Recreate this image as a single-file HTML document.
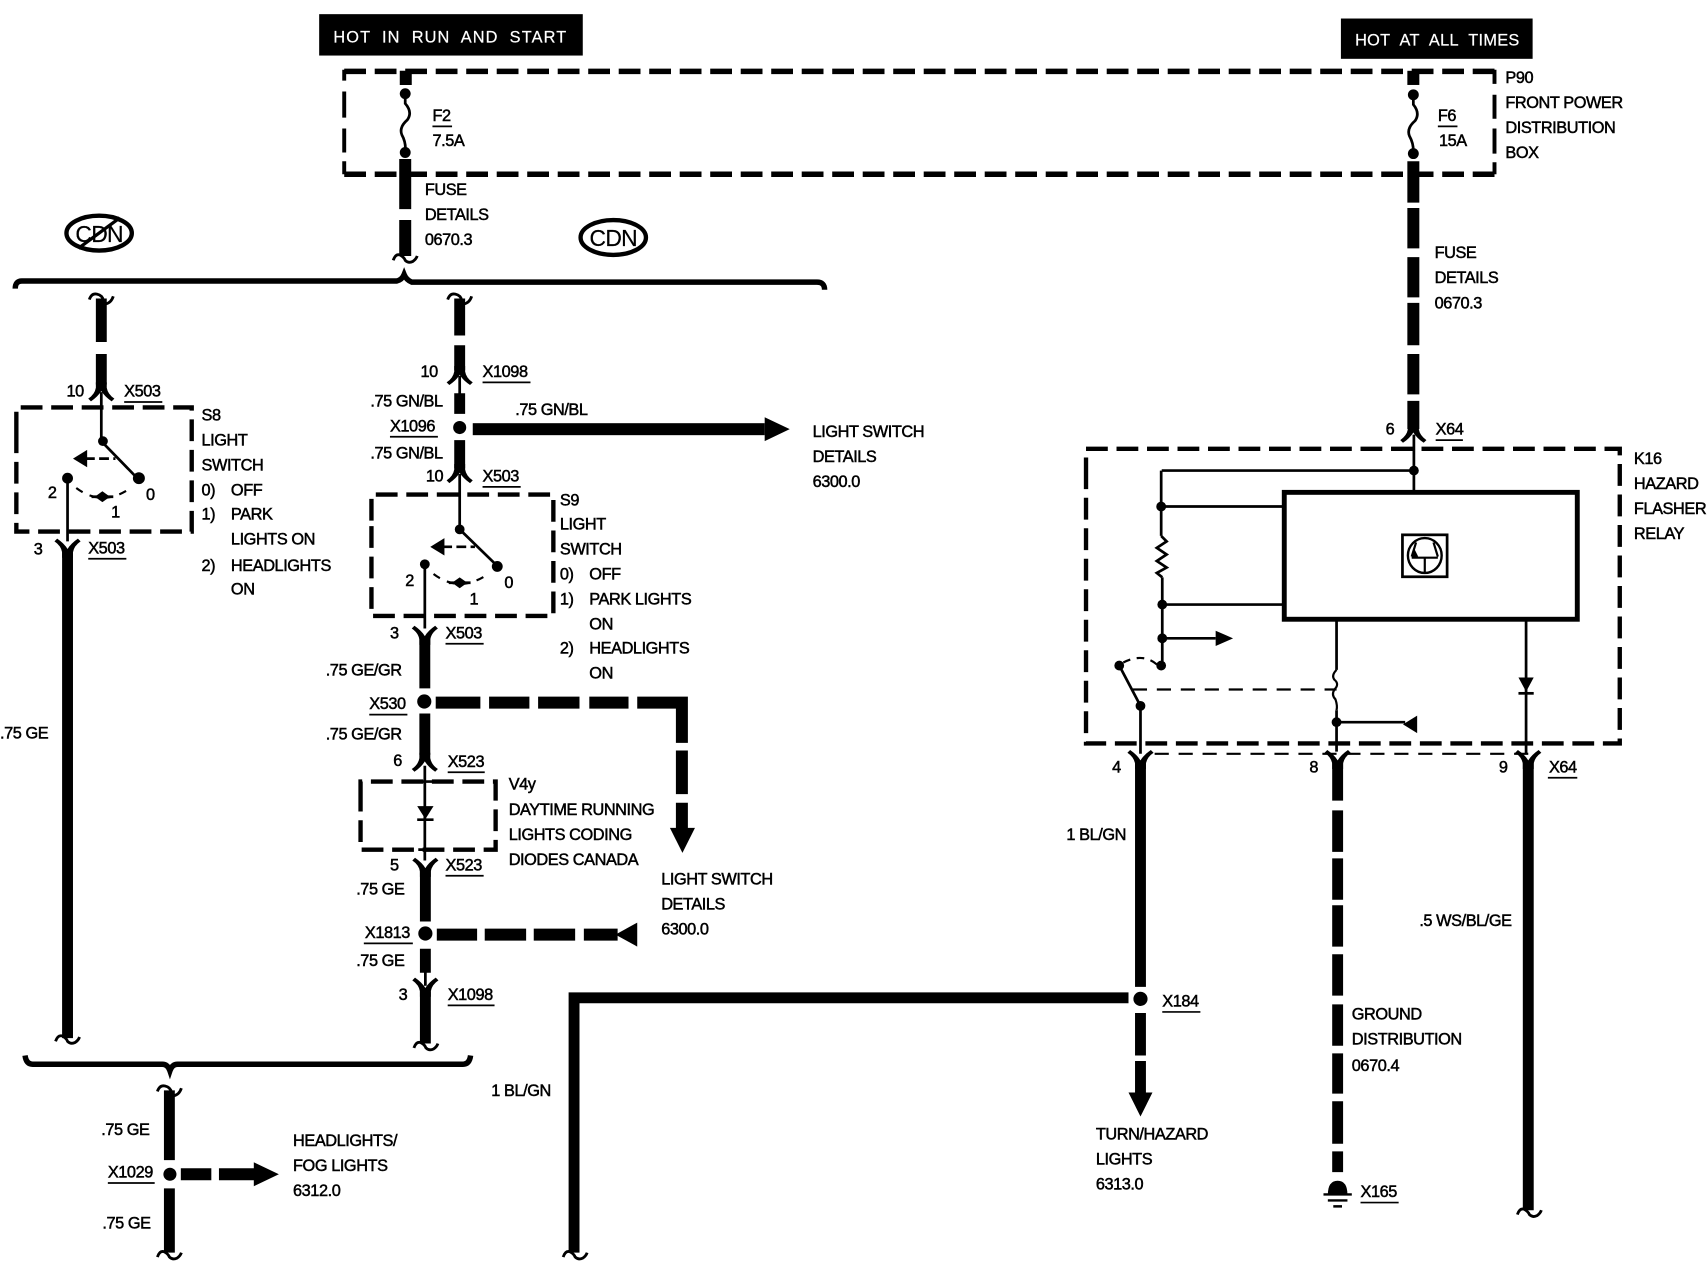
<!DOCTYPE html>
<html><head><meta charset="utf-8"><style>
html,body{margin:0;padding:0;background:#fff;width:1708px;height:1264px;overflow:hidden}
svg{display:block}
text{font-family:"Liberation Sans",sans-serif;font-size:15px;letter-spacing:-.4px;fill:#000;stroke:#000;stroke-width:.45px}
.w{fill:#fff;stroke:#fff;stroke-width:.2px;font-size:15px;letter-spacing:1.2px;word-spacing:5px}
.box{fill:none;stroke:#000;stroke-width:4;stroke-dasharray:20 8}
.t{fill:none;stroke:#000;stroke-width:11}
.m{fill:none;stroke:#000;stroke-width:2.5}
.s{fill:none;stroke:#000;stroke-width:2}
.u{stroke:#000;stroke-width:1.6}
</style></head><body>
<svg xmlns="http://www.w3.org/2000/svg" width="1708" height="1264" viewBox="0 0 1568 1160.4">
<defs>
<g id="sd"><path d="M-11 5Q-9 -1 -5 0Q-1 2 0 5Q3 8 7 6Q10 4 11 1" fill="none" stroke="#000" stroke-width="2.6"/></g>
<g id="su"><path d="M-11 4Q-9 -2 -4 -1Q1 0 2 5M4 8Q9 7 11 1" fill="none" stroke="#000" stroke-width="2.6"/></g>
<g id="fu"><path d="M-5 -9H5V-4Q6 2 12 6L9.500 8.500Q3 4 0 -1Q-3 4 -9.500 8.500L-12 6Q-6 2 -5 -4Z"/></g>
<g id="fd"><path d="M-5 9H5V4Q6 -2 12 -6L9.500 -8.500Q3 -4 0 1Q-3 -4 -9.500 -8.500L-12 -6Q-6 -2 -5 4Z"/></g>
</defs>

<!-- headers -->
<rect x="293" y="13" width="242" height="38"/>
<text class="w" x="306" y="39" textLength="215" lengthAdjust="spacing">HOT IN RUN AND START</text>
<rect x="1231" y="17" width="176" height="37"/>
<text class="w" x="1244" y="42" textLength="152" lengthAdjust="spacing">HOT AT ALL TIMES</text>

<!-- P90 -->
<path class="box" style="stroke-width:5" d="M316 65.500H1372M316 160H1372"/>
<path d="M316 64V74M316 84V108M316 118V140M316 148V160M1372 64V77M1372 87V109M1372 118V141M1372 149V160" fill="none" stroke="#000" stroke-width="3.600"/>
<path class="t" d="M372.500 65V78M372 146V192M372 202V235"/>
<circle cx="372" cy="86" r="5"/><circle cx="372" cy="140" r="5"/>
<path class="m" d="M372 86V95Q379 103 374 110Q366 117 369 124Q373 131 372 140"/>
<text x="397" y="111">F2</text><line class="u" x1="397" y1="116" x2="415" y2="116"/>
<text x="397" y="134">7.5A</text>
<text x="390" y="179">FUSE</text><text x="390" y="202">DETAILS</text><text x="390" y="225">0670.3</text>
<use href="#sd" x="372" y="234"/>

<path class="t" d="M1297.500 65V78"/>
<path class="t" d="M1297.500 148V186M1297.500 191V228M1297.500 236V273M1297.500 278V317M1297.500 325V362M1297.500 368V394"/>
<circle cx="1297.500" cy="87" r="5"/><circle cx="1297.500" cy="141" r="5"/>
<path class="m" d="M1297.500 87V96Q1304 104 1299 111Q1291 118 1294 125Q1298 132 1297.500 141"/>
<text x="1320" y="111">F6</text><line class="u" x1="1320" y1="116" x2="1338" y2="116"/>
<text x="1321" y="134">15A</text>
<text x="1382" y="76">P90</text><text x="1382" y="99">FRONT POWER</text><text x="1382" y="122">DISTRIBUTION</text><text x="1382" y="145">BOX</text>
<text x="1317" y="237">FUSE</text><text x="1317" y="260">DETAILS</text><text x="1317" y="283">0670.3</text>

<!-- CDN -->
<ellipse cx="91" cy="214" rx="30" ry="16" fill="none" stroke="#000" stroke-width="4"/>
<text x="91" y="222" text-anchor="middle" style="font-size:21px;letter-spacing:-.6px;stroke-width:.2px">CDN</text>
<line x1="72" y1="228" x2="110" y2="200" stroke="#000" stroke-width="3"/>
<ellipse cx="563" cy="218" rx="30" ry="16" fill="none" stroke="#000" stroke-width="4"/>
<text x="563" y="226" text-anchor="middle" style="font-size:21px;letter-spacing:-.6px;stroke-width:.2px">CDN</text>

<!-- top bus -->
<path d="M14 265Q14 258 20 258H364Q369 257 371 252Q373 257 378 259H750Q757 259 757 266" fill="none" stroke="#000" stroke-width="5"/>

<!-- left branch -->
<use href="#su" x="93" y="271"/>
<path class="t" style="stroke-width:10" d="M93 274V314M93 325V353"/>
<use href="#fu" x="93" y="360"/>
<path class="m" d="M93 360V405L127 440"/>
<path class="box" d="M15 398V374H176V488H15V398"/>
<circle cx="94.500" cy="405" r="4.500"/><circle cx="127.500" cy="439" r="5.500"/>
<path d="M67 421L80 413V429Z"/><path class="m" d="M78 421H106" stroke-dasharray="9 4"/>
<circle cx="62" cy="439" r="5"/>
<path class="m" d="M62 439V497"/>
<path class="s" d="M70 448Q94 466 120 448" stroke-dasharray="7 7"/>
<path d="M87 456L94 451L101 456L94 461Z"/><path class="m" d="M84 456H104"/>
<text x="44" y="457">2</text><text x="134" y="459">0</text><text x="102" y="475">1</text>
<text x="61" y="364">10</text><text x="114" y="364">X503</text><line class="u" x1="114" y1="369" x2="149" y2="369"/>
<text x="185" y="386">S8</text><text x="185" y="409">LIGHT</text><text x="185" y="432">SWITCH</text>
<text x="185" y="455">0)</text><text x="212" y="455">OFF</text>
<text x="185" y="477">1)</text><text x="212" y="477">PARK</text><text x="212" y="500">LIGHTS ON</text>
<text x="185" y="524">2)</text><text x="212" y="524">HEADLIGHTS</text><text x="212" y="546">ON</text>
<use href="#fd" x="62" y="503"/>
<path class="t" style="stroke-width:10" d="M62 505V953"/>
<use href="#sd" x="62" y="951"/>
<text x="31" y="509">3</text><text x="81" y="508">X503</text><line class="u" x1="81" y1="513" x2="116" y2="513"/>
<text x="0" y="678">.75 GE</text>

<!-- centre branch -->
<use href="#su" x="422" y="271"/>
<path class="t" style="stroke-width:10" d="M422 274V308M422 317V340M422 361V380M422 404V430"/>
<use href="#fu" x="422" y="345"/>
<path class="m" d="M422 345V362"/>
<circle cx="422" cy="392.500" r="6"/>
<use href="#fu" x="422" y="435"/>
<path class="m" d="M422 435V486L457 520"/>
<rect x="434" y="388.500" width="268" height="11"/>
<path d="M702 383L725 394L702 405Z"/>
<path class="box" d="M341 478V454H508V565.500H341V478"/>
<circle cx="422" cy="486" r="4.500"/><circle cx="456.500" cy="520" r="5"/>
<path d="M395 502L408 494V510Z"/><path class="m" d="M406 502H436" stroke-dasharray="9 4"/>
<circle cx="390" cy="518" r="4.500"/>
<path class="m" d="M390 518V577"/>
<path class="s" d="M398 527Q422 545 448 527" stroke-dasharray="7 7"/>
<path d="M415 535L422 530L429 535L422 540Z"/><path class="m" d="M412 535H432"/>
<text x="372" y="538">2</text><text x="463" y="540">0</text><text x="431" y="555">1</text>
<text x="386" y="346">10</text><text x="443" y="346">X1098</text><line class="u" x1="443" y1="351" x2="487" y2="351"/>
<text x="340" y="373">.75 GN/BL</text>
<text x="358" y="396">X1096</text><line class="u" x1="358" y1="401" x2="402" y2="401"/>
<text x="340" y="421">.75 GN/BL</text>
<text x="391" y="442">10</text><text x="443" y="442">X503</text><line class="u" x1="443" y1="447" x2="478" y2="447"/>
<text x="473" y="381">.75 GN/BL</text>
<text x="746" y="401">LIGHT SWITCH</text><text x="746" y="424">DETAILS</text><text x="746" y="447">6300.0</text>
<text x="514" y="464">S9</text><text x="514" y="486">LIGHT</text><text x="514" y="509">SWITCH</text>
<text x="514" y="532">0)</text><text x="541" y="532">OFF</text>
<text x="514" y="555">1)</text><text x="541" y="555">PARK LIGHTS</text><text x="541" y="578">ON</text>
<text x="514" y="600">2)</text><text x="541" y="600">HEADLIGHTS</text><text x="541" y="623">ON</text>

<use href="#fd" x="390" y="583"/>
<path class="t" style="stroke-width:10" d="M390 585V632M390 655V693"/>
<circle cx="389.500" cy="644" r="6.500"/>
<text x="358" y="586">3</text><text x="409" y="586">X503</text><line class="u" x1="409" y1="591" x2="444" y2="591"/>
<text x="299" y="620">.75 GE/GR</text>
<text x="339" y="651">X530</text><line class="u" x1="339" y1="656" x2="374" y2="656"/>
<text x="299" y="679">.75 GE/GR</text>
<path class="t" d="M400 645H441M449 645H486M494 645H532M541 645H577M585 645H626V682M626 689V729M626 737V762"/>
<path d="M615 760H638L626.500 783Z"/>
<use href="#fu" x="390" y="700"/>
<text x="361" y="703">6</text><text x="411" y="704">X523</text><line class="u" x1="411" y1="709" x2="445" y2="709"/>
<path class="box" d="M331 736V717.500H455V780H331V736"/>
<path class="m" d="M390 703V790"/>
<path d="M383 740H398L390.500 752Z"/><path class="m" d="M383 752.500H398M384 717.500H397M384 780H397"/>
<text x="467" y="725">V4y</text><text x="467" y="748">DAYTIME RUNNING</text><text x="467" y="771">LIGHTS CODING</text><text x="467" y="794">DIODES CANADA</text>
<use href="#fd" x="390.500" y="796"/>
<path class="t" style="stroke-width:10" d="M390.500 798V846M390.500 871V893M390.500 910V958"/>
<circle cx="390.500" cy="857" r="6.500"/>
<path class="m" d="M390.500 890V905"/>
<use href="#fd" x="390.500" y="906"/>
<use href="#sd" x="391" y="957"/>
<text x="358" y="799">5</text><text x="409" y="799">X523</text><line class="u" x1="409" y1="804" x2="444" y2="804"/>
<text x="327" y="821">.75 GE</text>
<text x="335" y="861">X1813</text><line class="u" x1="334" y1="866" x2="379" y2="866"/>
<text x="327" y="887">.75 GE</text>
<text x="366" y="918">3</text><text x="411" y="918">X1098</text><line class="u" x1="411" y1="923" x2="454" y2="923"/>
<path class="t" d="M401 858H438M445 858H483M490 858H528M536 858H567"/>
<path d="M565 858L585 847V869Z"/>
<text x="607" y="812">LIGHT SWITCH</text><text x="607" y="835">DETAILS</text><text x="607" y="858">6300.0</text>

<!-- lower bus -->
<path d="M23 969Q24 977 30 977H149Q154 977 156 983Q158 977 163 977H425Q431 977 432 969" fill="none" stroke="#000" stroke-width="5"/>
<use href="#su" x="155.500" y="998"/>
<path class="t" style="stroke-width:10" d="M155.500 1001V1065M155.500 1091V1150"/>
<circle cx="156" cy="1078" r="6"/>
<use href="#sd" x="155.500" y="1149"/>
<path class="t" d="M166 1078H194M201 1078H235"/>
<path d="M233 1067L256 1078L233 1089Z"/>
<text x="93" y="1042">.75 GE</text>
<text x="99" y="1081">X1029</text><line class="u" x1="99" y1="1086" x2="142" y2="1086"/>
<text x="94" y="1128">.75 GE</text>
<text x="269" y="1052">HEADLIGHTS/</text><text x="269" y="1075">FOG LIGHTS</text><text x="269" y="1098">6312.0</text>

<!-- long wire -->
<path class="t" style="stroke-width:10" d="M1036 916H527V1150" />
<use href="#sd" x="528" y="1149"/>
<text x="451" y="1006">1 BL/GN</text>

<!-- K16 -->
<path class="box" d="M997 440V412H1487V682.500H997V440"/>
<use href="#fu" x="1297.500" y="398"/>
<path class="m" d="M1298 399V452M1066.500 432H1298V432M1066 432V492M1066 465H1179M1067 530V611M1067 555H1179M1067 586H1116"/>
<circle cx="1298" cy="432" r="4.500"/><circle cx="1066" cy="465" r="4.500"/><circle cx="1067" cy="555" r="4.500"/><circle cx="1067" cy="586" r="4.500"/><circle cx="1066" cy="611" r="4.500"/>
<path class="m" d="M1066 492L1071 497L1062 503L1071 509L1062 515L1071 521L1062 526L1067 530"/>
<path d="M1116 579L1132 586L1116 593Z"/>
<rect x="1179" y="452" width="269" height="116.500" fill="none" stroke="#000" stroke-width="4.500"/>
<rect x="1287.500" y="491" width="41" height="38.500" fill="none" stroke="#000" stroke-width="2.500"/>
<ellipse cx="1308" cy="510" rx="15.500" ry="16" fill="none" stroke="#000" stroke-width="2.200"/>
<path class="s" d="M1308 526V512M1296 512H1320M1300 498L1296 511M1316 498L1320 511"/>
<path d="M1296 512L1298 503L1302 511Z"/>
<!-- switch -->
<path class="s" d="M1062 610Q1048 598 1028 610" stroke-dasharray="7 6"/>
<circle cx="1027.500" cy="611" r="4.500"/><circle cx="1047" cy="648" r="4.500"/>
<path class="m" d="M1027.500 611L1047 648V692"/>
<path class="s" d="M1040 633H1227" stroke-dasharray="13 9"/>
<path class="m" d="M1227 569V615M1227 652V690M1227 663H1290"/>
<path class="s" d="M1227 615Q1222 620 1225 624Q1230 628 1225 633Q1222 638 1226 642Q1228 648 1227 652"/>
<circle cx="1227" cy="663" r="4.500"/>
<path d="M1301 657V673L1288 665Z"/>
<path class="m" d="M1401 569V692"/>
<path d="M1394 622H1408L1401 635Z"/><path class="m" d="M1394 636.500H1408"/>
<path class="s" d="M1060 692H1403" stroke-dasharray="13 9"/>
<text x="1272" y="399">6</text><text x="1318" y="399">X64</text><line class="u" x1="1318" y1="404" x2="1343" y2="404"/>
<text x="1500" y="426">K16</text><text x="1500" y="449">HAZARD</text><text x="1500" y="472">FLASHER</text><text x="1500" y="495">RELAY</text>

<!-- lower right wires -->
<use href="#fd" x="1047" y="697"/>
<path class="t" style="stroke-width:10" d="M1047 699V906M1047 930V969M1047 974V1006"/>
<circle cx="1047" cy="917" r="6.500"/>
<path d="M1036 1003H1058L1047 1025Z"/>
<use href="#fd" x="1228" y="697"/>
<path class="t" style="stroke-width:10" d="M1228 699V735M1228 744V782M1228 788V826M1228 831V869M1228 876V914M1228 922V960M1228 967V1004M1228 1011V1050M1228 1057V1076"/>
<path d="M1219 1097Q1219 1084 1228 1084Q1237 1084 1237 1097Z"/>
<path d="M1215 1096.500H1241M1219 1102H1237M1224 1107.500H1232" stroke="#000" stroke-width="2.200"/>
<use href="#fd" x="1403" y="697"/>
<path class="t" style="stroke-width:10" d="M1403 699V1111"/>
<use href="#sd" x="1404" y="1110"/>
<text x="1021" y="709">4</text><text x="1202" y="709">8</text><text x="1376" y="709">9</text>
<text x="1422" y="709">X64</text><line class="u" x1="1421" y1="714" x2="1448" y2="714"/>
<text x="979" y="771">1 BL/GN</text>
<text x="1303" y="850">.5 WS/BL/GE</text>
<text x="1067" y="924">X184</text><line class="u" x1="1067" y1="929" x2="1102" y2="929"/>
<text x="1241" y="936">GROUND</text><text x="1241" y="959">DISTRIBUTION</text><text x="1241" y="983">0670.4</text>
<text x="1006" y="1046">TURN/HAZARD</text><text x="1006" y="1069">LIGHTS</text><text x="1006" y="1092">6313.0</text>
<text x="1249" y="1099">X165</text><line class="u" x1="1249" y1="1104" x2="1284" y2="1104"/>
</svg>
</body></html>
